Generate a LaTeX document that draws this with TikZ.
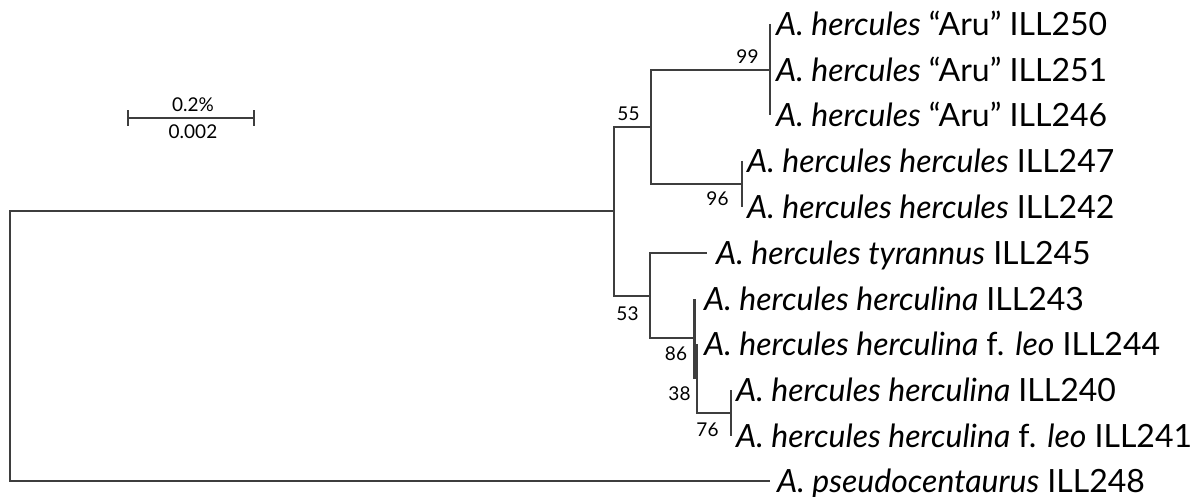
\documentclass[tikz,border=0pt]{standalone}
\usepackage{fontspec}
\setmainfont{Lato}
\definecolor{treeline}{RGB}{62,62,62}
\begin{document}
\begin{tikzpicture}[x=1pt,y=-1pt,
  branch/.style={draw=treeline,line width=2.1pt},
  taxon/.style={anchor=base west,inner sep=0pt,font=\fontsize{32}{34}\selectfont},
  boot/.style={anchor=center,inner sep=0pt,font=\fontsize{19}{21}\selectfont},
  scalelab/.style={anchor=center,inner sep=0pt,font=\fontsize{19}{21}\selectfont}]
\useasboundingbox (0,0) rectangle (1193,497);
% internal nodes
\coordinate (root) at (10,346.2);
\coordinate (ing) at (614,211.4);
\coordinate (n55) at (651,127);
\coordinate (n99) at (770,70);
\coordinate (n96) at (742,184);
\coordinate (n53) at (650,295.7);
\coordinate (n86) at (694.5,338.4);
\coordinate (n38) at (697,378.4);
\coordinate (n76) at (731,412.75);
% leaves
\coordinate (L1) at (770,24);
\coordinate (L2) at (770,70);
\coordinate (L3) at (770,115.5);
\coordinate (L4) at (742,161);
\coordinate (L5) at (742,207);
\coordinate (L6) at (707,253);
\coordinate (L7) at (694.5,298.5);
\coordinate (L8) at (697,344);
\coordinate (L9) at (731,390);
\coordinate (L10) at (731,435.5);
\coordinate (L11) at (770,481);
% branches
\draw[branch] (root) |- (ing);
\draw[branch] (root) |- (L11);
\draw[branch] (ing) |- (n55);
\draw[branch] (ing) |- (n53);
\draw[branch] (n55) |- (n99);
\draw[branch] (n55) |- (n96);
\draw[branch] (L1) -- (L3);
\draw[branch] (L4) -- (L5);
\draw[branch] (n53) |- (L6);
\draw[branch] (n53) |- (n86);
\draw[branch] (n86) |- (L7);
\draw[branch] (n86) |- (n38);
\draw[branch] (n38) |- (L8);
\draw[branch] (n38) |- (n76);
\draw[branch] (L9) -- (L10);
% taxa
\node[taxon] (t1) at (776,35.5) {\textit{A. hercules} “Aru” ILL250};
\node[taxon] (t2) at (776,81.5) {\textit{A. hercules} “Aru” ILL251};
\node[taxon] (t3) at (776,127) {\textit{A. hercules} “Aru” ILL246};
\node[taxon] (t4) at (747,172.5) {\textit{A. hercules hercules} ILL247};
\node[taxon] (t5) at (747,218.5) {\textit{A. hercules hercules} ILL242};
\node[taxon] (t6) at (716,264.5) {\textit{A. hercules tyrannus} ILL245};
\node[taxon] (t7) at (704,310) {\textit{A. hercules herculina} ILL243};
\node[taxon] (t8) at (704,355.5) {\textit{A. hercules herculina} f. \textit{leo} ILL244};
\node[taxon] (t9) at (736,401.5) {\textit{A. hercules herculina} ILL240};
\node[taxon] (t10) at (736,447) {\textit{A. hercules herculina} f. \textit{leo} ILL241};
\node[taxon] (t11) at (777,492.5) {\textit{A. pseudocentaurus} ILL248};
% bootstrap values
\node[boot] (b99) at (747.5,57) {99};
\node[boot] (b55) at (628.5,114) {55};
\node[boot] (b96) at (717.5,198.5) {96};
\node[boot] (b53) at (627.5,313.5) {53};
\node[boot] (b86) at (676,353.5) {86};
\node[boot] (b38) at (679.5,393.5) {38};
\node[boot] (b76) at (707.5,429.5) {76};
% scale bar
\coordinate (sbl) at (128,118);
\coordinate (sbr) at (254,118);
\draw[branch,line width=1.8pt] (sbl) -- (sbr);
\draw[branch,line width=1.8pt] ([yshift=-8]sbl) -- ([yshift=8]sbl);
\draw[branch,line width=1.8pt] ([yshift=-8]sbr) -- ([yshift=8]sbr);
\node[scalelab] (s1) at (193,105) {0.2\%};
\node[scalelab] (s2) at (193,132) {0.002};
\end{tikzpicture}
\end{document}
